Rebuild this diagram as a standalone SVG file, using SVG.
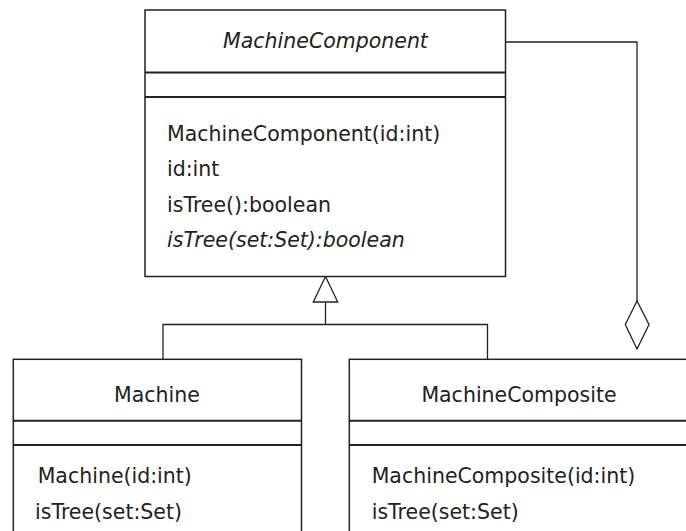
<svg xmlns="http://www.w3.org/2000/svg" width="686" height="531" viewBox="0 0 686 531">
<style>
.box{fill:#fff;stroke:#222;stroke-width:1.5}
.sep{stroke:#222;stroke-width:2}
.t{font-family:"DejaVu Sans",sans-serif;font-size:20.5px;fill:#222}
.c{text-anchor:middle}
.i{font-style:italic}
.con{fill:none;stroke:#222;stroke-width:1.3}
.head{fill:#fff;stroke:#222;stroke-width:1.3}
</style>
<rect width="686" height="531" fill="#fff"/>
<g id="connectors">
<polyline class="con" points="505.5,42 637,42 637,301"/>
<polygon class="head" points="637,301 625.3,324.5 637,349 649,324.5"/>
<polyline class="con" points="163,359 163,324.5 487.5,324.5 487.5,359"/>
<line class="con" x1="325.5" y1="302" x2="325.5" y2="324.5"/>
<polygon class="head" points="325.5,276.5 313.3,302 337.7,302"/>
</g>
<g id="MachineComponent">
<rect class="box" x="145" y="10" width="360.5" height="266.5"/>
<line class="sep" x1="145" y1="72.5" x2="505.5" y2="72.5"/>
<line class="sep" x1="145" y1="97" x2="505.5" y2="97"/>
<text class="t c i" x="325.5" y="48">MachineComponent</text>
<text class="t" x="167" y="141">MachineComponent(id:int)</text>
<text class="t" x="167" y="176">id:int</text>
<text class="t" x="167" y="211.5">isTree():boolean</text>
<text class="t i" x="167" y="247">isTree(set:Set):boolean</text>
</g>
<g id="Machine">
<rect class="box" x="13.3" y="359.3" width="288.2" height="190"/>
<line class="sep" x1="13.3" y1="420.7" x2="301.5" y2="420.7"/>
<line class="sep" x1="13.3" y1="445" x2="301.5" y2="445"/>
<text class="t c" x="157" y="401.5">Machine</text>
<text class="t" x="37.7" y="483.3">Machine(id:int)</text>
<text class="t" x="35" y="518.5">isTree(set:Set)</text>
</g>
<g id="MachineComposite">
<rect class="box" x="349.3" y="359.3" width="340" height="190"/>
<line class="sep" x1="349.3" y1="420.7" x2="690" y2="420.7"/>
<line class="sep" x1="349.3" y1="445" x2="690" y2="445"/>
<text class="t c" x="519" y="401.5">MachineComposite</text>
<text class="t" x="371.7" y="483.3">MachineComposite(id:int)</text>
<text class="t" x="371.7" y="518.5">isTree(set:Set)</text>
</g>
</svg>
